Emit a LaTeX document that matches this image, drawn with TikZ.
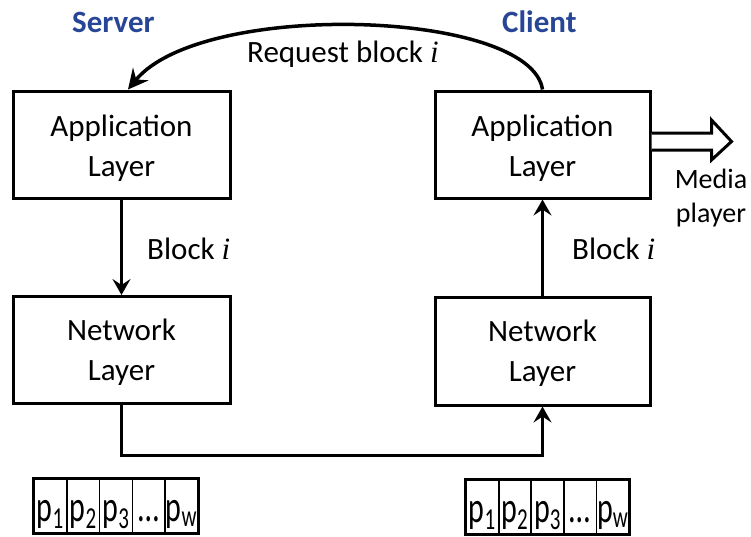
\documentclass[tikz,border=0pt]{standalone}
\usepackage{fontspec}
\setmainfont{Carlito}
\newfontfamily\ivar{Liberation Serif}
\usetikzlibrary{arrows.meta,calc}
\definecolor{hdr}{RGB}{40,70,150}
\newcommand{\vi}{{\ivar\itshape i}}
\newcommand{\pk}[1]{\scalebox{1}[1.45]{#1}}
\begin{document}
\begin{tikzpicture}[x=1pt,y=-1pt,
 box/.style={draw,line width=3pt,minimum width=217pt,minimum height=107pt,inner sep=0pt},
 btxt/.style={align=center,font=\fontsize{31}{40}\selectfont,inner sep=0pt},
 lbl/.style={font=\fontsize{31}{36}\selectfont,inner sep=0pt},
 hd/.style={font=\bfseries\fontsize{31}{36}\selectfont,text=hdr,inner sep=0pt},
 arr/.style={line width=3pt,-{Stealth[length=16pt,width=18pt,inset=6pt]}},
 dbl/.style={line width=3pt,line join=miter,fill=white},
 cell/.style={draw,line width=1.6pt,minimum width=32.8pt,minimum height=54pt,inner sep=0pt,
   text height=30pt,text depth=0pt,font=\fontsize{30}{34}\selectfont}]
\useasboundingbox (0,0) rectangle (751,536);

% boxes
\node[box] (sapp) at (121.5,144.5) {};
\node[box] (snet) at (121.5,350) {};
\node[box,minimum width=215pt] (capp) at (542.5,144.5) {};
\node[box,minimum width=215pt,minimum height=108pt] (cnet) at (542.5,351) {};
\node[btxt] (sappt) at ([yshift=-4pt]sapp.center) {Application\\Layer};
\node[btxt] (snett) at ([yshift=-2pt]snet.center) {Network\\Layer};
\node[btxt] (cappt) at ([yshift=-4pt]capp.center) {Application\\Layer};
\node[btxt] (cnett) at ([yshift=-2pt]cnet.center) {Network\\Layer};

% headings
\node[hd,anchor=base west] (srv) at (72,32) {Server};
\node[hd,anchor=base west] (cli) at (502,32) {Client};

% connectors
\draw[arr] (sapp.south) -- (snet.north);
\draw[arr] (cnet.north) -- (capp.south);
\draw[arr] (snet.south) -- ++(0,50) -| (cnet.south);
\coordinate (rq) at ($(sapp.north)+(6.5,0)$);
\draw[line width=3.5pt,-{Stealth[length=20pt,width=20pt,inset=7pt]}]
  (capp.north) .. controls +(-12,-80) and +(74,-90) .. (rq);

% labels
\node[lbl,anchor=base west] (bl1) at (147,259) {Block \vi};
\node[lbl,anchor=base west] (bl2) at (572,259) {Block \vi};
\node[lbl,anchor=base west] (req) at (247,62) {Request block \vi};

% media player arrow
\draw[dbl] ([yshift=11.5pt]capp.east) -- ++(60,0) -- ++(0,-13) -- ++(20,21.5)
  -- ++(-20,18.5) -- ++(0,-10) -- ++(-60,0);
\node[lbl,align=center,font=\fontsize{28}{34}\selectfont] (mp) at (711,198) {Media\\player};

% packets left
\node[cell] (l1) at (50.4,506) {\pk{p\textsubscript{1}}};
\node[cell] (l2) at (83.2,506) {\pk{p\textsubscript{2}}};
\node[cell] (l3) at (116.0,506) {\pk{p\textsubscript{3}}};
\node[cell] (l4) at (148.8,506) {\pk{…}};
\node[cell] (l5) at (181.6,506) {\pk{p\textsubscript{w}}};
\draw[line width=2.5pt] (l1.north west) rectangle (l5.south east);

% packets right
\node[cell] (r1) at (482.3,507) {\pk{p\textsubscript{1}}};
\node[cell] (r2) at (514.9,507) {\pk{p\textsubscript{2}}};
\node[cell] (r3) at (547.5,507) {\pk{p\textsubscript{3}}};
\node[cell] (r4) at (580.1,507) {\pk{…}};
\node[cell] (r5) at (612.7,507) {\pk{p\textsubscript{w}}};
\draw[line width=2.5pt] (r1.north west) rectangle (r5.south east);
\end{tikzpicture}
\end{document}
